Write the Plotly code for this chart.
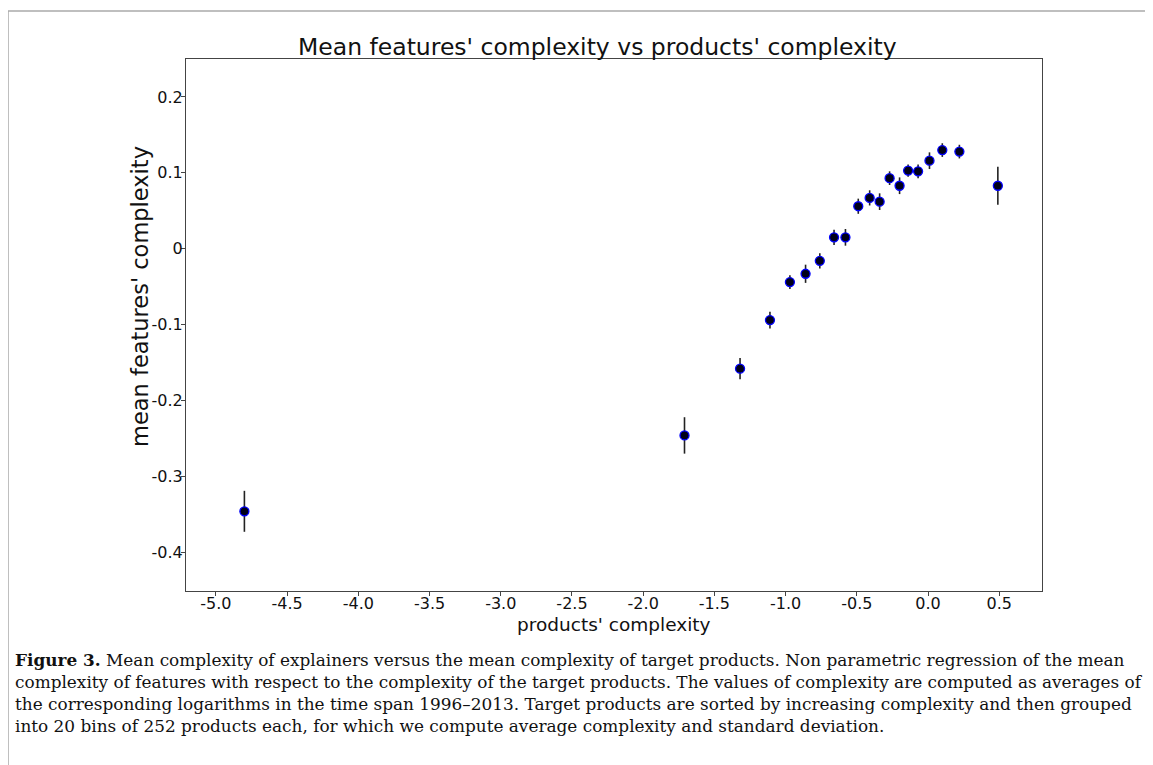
import plotly.graph_objects as go

# Data
products_complexity = [-4.80, -1.71, -1.32, -1.11, -0.97, -0.86, -0.76, -0.66, -0.58, -0.49,
                       -0.41, -0.34, -0.27, -0.20, -0.14, -0.07, 0.01, 0.10, 0.22, 0.49]
features_complexity = [-0.346, -0.246, -0.158, -0.094, -0.044, -0.033, -0.016, 0.015, 0.015, 0.056,
                       0.067, 0.062, 0.093, 0.083, 0.103, 0.102, 0.116, 0.130, 0.128, 0.083]
std_dev = [0.027, 0.024, 0.014, 0.011, 0.009, 0.012, 0.010, 0.010, 0.011, 0.010,
           0.010, 0.011, 0.009, 0.011, 0.008, 0.009, 0.011, 0.009, 0.009, 0.025]

x_ticks = [-5.0, -4.5, -4.0, -3.5, -3.0, -2.5, -2.0, -1.5, -1.0, -0.5, 0.0, 0.5]
x_tick_labels = ["-5.0", "-4.5", "-4.0", "-3.5", "-3.0", "-2.5", "-2.0", "-1.5", "-1.0", "-0.5", "0.0", "0.5"]
y_ticks = [0.2, 0.1, 0.0, -0.1, -0.2, -0.3, -0.4]
y_tick_labels = ["0.2", "0.1", "0", "-0.1", "-0.2", "-0.3", "-0.4"]

title_text = "Mean features' complexity vs products' complexity"
x_title = "products' complexity"
y_title = "mean features' complexity"
caption_lines = [
    "<b>Figure 3.</b> Mean complexity of explainers versus the mean complexity of target products. Non parametric regression of the mean",
    "complexity of features with respect to the complexity of the target products. The values of complexity are computed as averages of",
    "the corresponding logarithms in the time span 1996\u20132013. Target products are sorted by increasing complexity and then grouped",
    "into 20 bins of 252 products each, for which we compute average complexity and standard deviation.",
]

OFF = 8  # page body margin
W, H = 1153 - OFF, 765 - OFF
L, R, T, B = 186, 1042, 59, 591  # plot frame in screen pixels
pw, ph = R - L, B - T


def px(x):
    return (x - L) / pw


def py(y):
    return (B - y) / ph


fig = go.Figure()
fig.add_trace(go.Scatter(
    x=products_complexity, y=features_complexity, mode="markers",
    marker=dict(size=9, color="#000018", line=dict(color="#0000ff", width=1.3)),
    error_y=dict(type="data", array=std_dev, visible=True, color="#222222", thickness=1.6, width=0),
    showlegend=False,
))

axis_common = dict(showgrid=False, zeroline=False, showline=True, linecolor="#444444", linewidth=1,
                   mirror=True, ticks="outside", ticklen=4, tickcolor="#444444",
                   tickfont=dict(size=16, family="DejaVu Sans", color="#111111"))

fig.update_layout(
    width=W, height=H,
    margin=dict(l=L - OFF, r=(W + OFF) - R, t=T - OFF, b=(H + OFF) - B),
    paper_bgcolor="white", plot_bgcolor="white",
    font=dict(family="DejaVu Sans", color="#111111"),
    xaxis=dict(range=[-5.21, 0.80], tickmode="array", tickvals=x_ticks, ticktext=x_tick_labels,
               ticklabelstandoff=-6, **axis_common),
    yaxis=dict(range=[-0.451, 0.250], tickmode="array", tickvals=y_ticks, ticktext=y_tick_labels,
               ticklabelstandoff=-5, **axis_common),
)

annotations = [
    dict(text=title_text, x=px(597), y=py(47), xref="paper", yref="paper", xanchor="center", yanchor="middle",
         showarrow=False, font=dict(size=23.5, family="DejaVu Sans", color="#111111")),
    dict(text=x_title, x=px(614), y=py(624), xref="paper", yref="paper", xanchor="center", yanchor="middle",
         showarrow=False, font=dict(size=18.5, family="DejaVu Sans", color="#111111")),
    dict(text=y_title, x=px(140), y=py(297), xref="paper", yref="paper", xanchor="center", yanchor="middle",
         textangle=-90, showarrow=False, font=dict(size=22.5, family="DejaVu Sans", color="#111111")),
]
for i, line in enumerate(caption_lines):
    annotations.append(dict(text=line, x=px(13), y=py(660 + 22 * i), xref="paper", yref="paper",
                            xanchor="left", yanchor="middle", showarrow=False, align="left",
                            font=dict(size=16.9, family="DejaVu Serif", color="#111111")))
fig.update_layout(annotations=annotations)

# outer figure frame (gray)
fig.add_shape(type="path", xref="paper", yref="paper",
              path=f"M {px(8)} {py(775)} L {px(8)} {py(11)} L {px(1170)} {py(11)}",
              line=dict(color="#aaaaaa", width=1.5))

fig.write_html("out.html")
